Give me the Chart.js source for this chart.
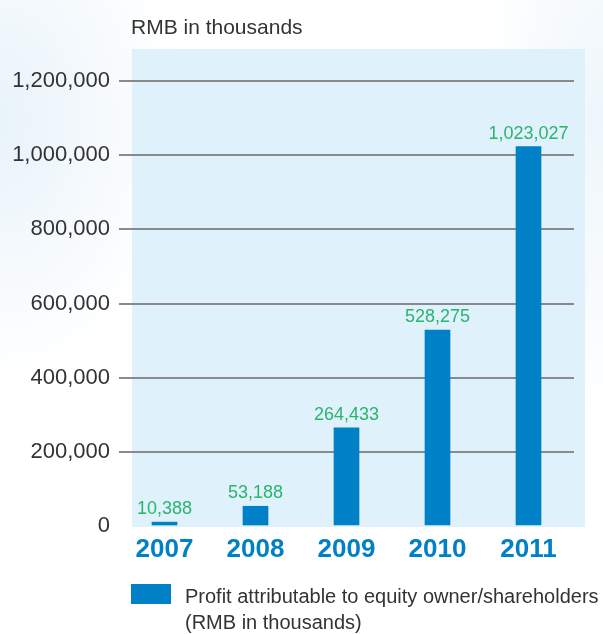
<!DOCTYPE html>
<html>
<head>
<meta charset="utf-8">
<script src="https://cdn.jsdelivr.net/npm/chart.js@4"></script>
<style>
  html, body { margin: 0; padding: 0; }
  body {
    width: 603px; height: 634px; overflow: hidden;
    background: radial-gradient(ellipse 180px 260px at 0px 120px, #e8f3fa 0%, rgba(255,255,255,0) 100%),
                radial-gradient(ellipse 120px 300px at 603px 120px, #eef6fb 0%, rgba(255,255,255,0) 100%),
                #ffffff;
  }
  #wrap { position: relative; width: 603px; height: 634px; }
</style>
</head>
<body>
<div id="wrap"><canvas id="myChart" width="603" height="634"></canvas></div>
<script>
const years = ['2007', '2008', '2009', '2010', '2011'];
const profit = [10388, 53188, 264433, 528275, 1023027];
const yTicks = [0, 200000, 400000, 600000, 800000, 1000000, 1200000];
const unitTitle = 'RMB in thousands';
const legendLines = ['Profit attributable to equity owner/shareholders', '(RMB in thousands)'];

const barBlue = '#0080c6';
const valueGreen = '#2bb46d';
const textGrey = '#333333';
const fontFace = '"Liberation Sans", Arial, sans-serif';

const ctx = document.getElementById('myChart').getContext('2d');

// light blue panel behind the plot, shifted a little right of the grid
const panelBg = {
  id: 'panelBg',
  beforeDraw(chart) {
    const a = chart.chartArea;
    const c = chart.ctx;
    c.save();
    c.fillStyle = '#dff1fb';
    c.fillRect(a.left + 13, a.top - 32, a.right - a.left - 2, a.bottom - a.top + 33);
    c.restore();
  }
};

// unit title, value labels over the bars and the legend underneath
const extras = {
  id: 'extras',
  afterDraw(chart) {
    const c = chart.ctx;
    c.save();
    c.fillStyle = textGrey;
    c.font = '21px ' + fontFace;
    c.textAlign = 'left';
    c.textBaseline = 'alphabetic';
    c.fillText(unitTitle, 131, 34);

    const meta = chart.getDatasetMeta(0);
    c.fillStyle = valueGreen;
    c.font = '18px ' + fontFace;
    c.textAlign = 'center';
    meta.data.forEach(function(bar, i) {
      c.fillText(profit[i].toLocaleString('en-US'), bar.x, bar.y - 8);
    });

    c.fillStyle = barBlue;
    c.fillRect(131, 584, 40, 20);
    c.fillStyle = textGrey;
    c.font = '20px ' + fontFace;
    c.textAlign = 'left';
    c.fillText(legendLines[0], 185, 603);
    c.fillText(legendLines[1], 185, 629);
    c.restore();
  }
};

const myChart = new Chart(ctx, {
  type: 'bar',
  data: {
    labels: years,
    datasets: [{
      label: legendLines.join(' '),
      data: profit,
      backgroundColor: barBlue,
      borderWidth: 0,
      barThickness: 25
    }]
  },
  options: {
    responsive: false,
    animation: false,
    layout: { padding: { top: 81, right: 29, bottom: 68, left: 0 } },
    plugins: {
      legend: { display: false },
      tooltip: { enabled: false }
    },
    scales: {
      x: {
        grid: { display: false },
        border: { display: false },
        ticks: {
          color: barBlue,
          padding: 0,
          font: { family: fontFace, size: 26, weight: 'bold' }
        },
        afterFit(scale) { scale.height = 40; }
      },
      y: {
        min: 0,
        max: 1200000,
        afterBuildTicks(scale) {
          scale.ticks = yTicks.map(function(v) { return { value: v }; });
        },
        grid: {
          drawTicks: false,
          lineWidth: 2,
          color: function(c) { return c.tick && c.tick.value === 0 ? 'rgba(0,0,0,0)' : '#8a8a8a'; }
        },
        border: { display: false },
        ticks: {
          color: textGrey,
          padding: 9,
          font: { family: fontFace, size: 22 },
          callback: function(v) { return v.toLocaleString('en-US'); }
        },
        afterFit(scale) { scale.width = 119; }
      }
    }
  },
  plugins: [panelBg, extras]
});
</script>
</body>
</html>
